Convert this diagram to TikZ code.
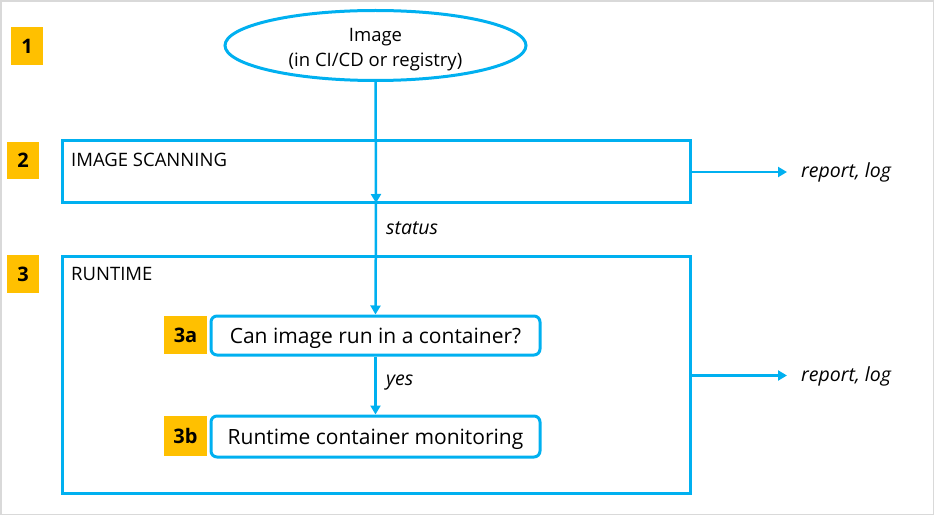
\documentclass[tikz,border=0pt]{standalone}
\usepackage{fontspec}
\setmainfont{Open Sans}
\usetikzlibrary{arrows.meta,shapes.geometric}
\definecolor{cblue}{HTML}{00B0F0}
\definecolor{cgold}{HTML}{FFC000}
\definecolor{cframe}{HTML}{D9D9D9}
\begin{document}
\begin{tikzpicture}[x=1pt,y=-1pt,
  badge/.style={fill=cgold,inner sep=0pt,font=\fontsize{20}{24}\selectfont\bfseries},
  bigbox/.style={draw=cblue,line width=3pt,inner sep=0pt},
  stepbox/.style={draw=cblue,line width=3pt,rounded corners=6pt,inner sep=0pt,font=\fontsize{21}{25}\selectfont,text height=18pt,text depth=2pt},
  flow/.style={draw=cblue,line width=2.5pt,-{Triangle[length=9pt,width=10pt]}},
  lbl/.style={font=\fontsize{19.5}{23}\selectfont\itshape,anchor=west,inner sep=0pt},
  hdr/.style={font=\fontsize{18.5}{22}\selectfont,anchor=west,inner sep=0pt}]
\useasboundingbox (0,0) rectangle (935,516);
\draw[cframe,line width=1.5pt] (1,1) rectangle (933.5,514.5);
% badges
\node[badge,minimum width=32pt,minimum height=38pt] (b1) at (27,46) {1};
\node[badge,minimum width=32pt,minimum height=37pt] (b2) at (23,160.5) {2};
\node[badge,minimum width=32pt,minimum height=38pt] (b3) at (23,274) {3};
\node[badge,minimum width=43pt,minimum height=38pt] (b3a) at (185.5,335) {3a};
\node[badge,minimum width=43pt,minimum height=40pt] (b3b) at (185.5,436) {3b};
% ellipse
\node[ellipse,draw=cblue,line width=3pt,inner sep=0pt,minimum width=301pt,minimum height=70pt] (img) at (375.5,45.5) {};
\node[font=\fontsize{18.5}{25}\selectfont,align=center,inner sep=0pt] (imgtxt) at (375.5,49.5) {Image\\(in CI/CD or registry)};
% boxes
\node[bigbox,minimum width=628pt,minimum height=62pt] (scan) at (376,172) {};
\node[bigbox,minimum width=628pt,minimum height=237pt] (run) at (376,374.5) {};
\node[hdr] (scanlbl) at (71,160) {IMAGE SCANNING};
\node[hdr] (runlbl) at (71,274) {RUNTIME};
\node[stepbox,minimum width=329pt,minimum height=39pt] (s3a) at (375.5,335.5) {Can image run in a container?};
\node[stepbox,minimum width=329pt,minimum height=41pt] (s3b) at (375.5,436.5) {Runtime container monitoring};
% arrows
\coordinate (tipscan) at (376,203);
\draw[flow] (img.south) -- (tipscan);
\draw[flow] (tipscan) -- (s3a.north);
\node[lbl] (status) at (386,228) {status};
\draw[flow] (s3a.south) -- (s3b.north);
\node[lbl] (yes) at (386,383) {yes};
\coordinate (r1) at (787,172);
\coordinate (r2) at (787,375.5);
\draw[flow] (scan.east |- r1) -- (r1);
\draw[flow] (run.east |- r2) -- (r2);
\node[lbl] (rep1) at (801,172.5) {report, log};
\node[lbl] (rep2) at (801,376.5) {report, log};
\end{tikzpicture}
\end{document}
